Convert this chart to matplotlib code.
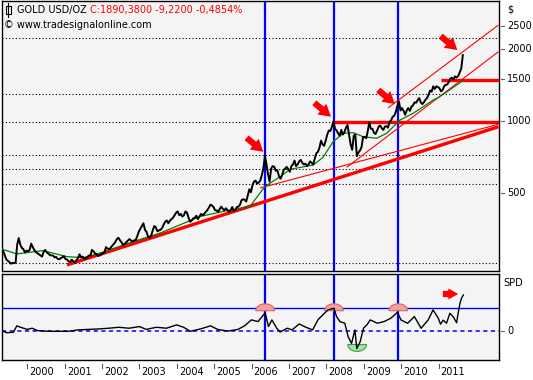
import numpy as np
import matplotlib
matplotlib.use("Agg")
import matplotlib.pyplot as plt
from matplotlib.transforms import blended_transform_factory as btf
from matplotlib.patches import Polygon, Rectangle
from matplotlib.lines import Line2D

plt.rcParams['font.family'] = ['DejaVu Sans']
plt.rcParams['lines.scale_dashes'] = False

# ---------------- data (semi-monthly gold closes, USD/oz) ----------------
gold_1999 = [287, 276, 265, 261, 258, 254, 256, 255, 257, 305, 325, 305, 296, 292, 283, 288]  # from May
gold_2000 = [286, 290, 308, 298, 290, 284, 281, 278, 275, 272, 285, 290, 283, 280, 276, 275, 275, 270, 271, 266, 265, 268, 270, 273]
gold_2001 = [266, 264, 260, 258, 264, 260, 257, 262, 268, 278, 270, 272, 266, 268, 270, 275, 274, 290, 286, 280, 278, 274, 275, 278]
gold_2002 = [281, 283, 298, 294, 292, 296, 302, 307, 313, 322, 326, 318, 312, 304, 308, 312, 317, 322, 318, 314, 318, 318, 330, 345]
gold_2003 = [355, 365, 375, 352, 345, 330, 326, 333, 350, 365, 360, 347, 350, 352, 358, 370, 380, 385, 375, 384, 390, 395, 405, 415]
gold_2004 = [420, 405, 410, 400, 405, 420, 415, 395, 380, 385, 393, 395, 403, 390, 400, 410, 405, 410, 418, 425, 435, 448, 445, 438]
gold_2005 = [425, 424, 418, 430, 440, 430, 425, 433, 425, 418, 425, 438, 423, 425, 438, 440, 448, 468, 472, 470, 462, 490, 520, 505]
gold_2006 = [540, 560, 565, 548, 555, 565, 595, 635, 715, 660, 600, 560, 635, 650, 645, 620, 625, 590, 575, 595, 625, 635, 645, 630]
gold_2007 = [615, 650, 660, 685, 650, 660, 680, 690, 670, 660, 665, 650, 660, 680, 670, 660, 700, 735, 745, 775, 830, 800, 790, 830]
gold_2008 = [880, 915, 910, 950, 1000, 930, 915, 890, 870, 920, 880, 900, 940, 965, 880, 800, 760, 870, 880, 715, 740, 755, 780, 860]
gold_2009 = [860, 850, 910, 990, 930, 930, 895, 885, 915, 950, 960, 935, 920, 950, 955, 940, 995, 1010, 1045, 1055, 1095, 1160, 1210, 1110]
gold_2010 = [1135, 1105, 1065, 1110, 1135, 1105, 1150, 1165, 1200, 1195, 1225, 1250, 1200, 1180, 1200, 1230, 1250, 1290, 1345, 1330, 1400, 1365, 1400, 1390]
gold_2011 = [1375, 1335, 1350, 1400, 1420, 1425, 1460, 1510, 1520, 1495, 1540, 1525, 1545, 1600, 1660, 1890]
gold_years = [1999, 2000, 2001, 2002, 2003, 2004, 2005, 2006, 2007, 2008, 2009, 2010, 2011]
gold_start_half_month = [8, 0, 0, 0, 0, 0, 0, 0, 0, 0, 0, 0, 0]

# green moving average
ma_dates = [1999.33, 1999.72, 2000.42, 2001.05, 2001.49, 2001.94, 2002.83, 2003.55, 2004.08, 2004.62,
            2005.3, 2005.95, 2006.35, 2006.76, 2007.03, 2007.65, 2007.9, 2008.18, 2008.45, 2008.72,
            2008.98, 2009.34, 2009.61, 2009.97, 2010.32, 2010.86, 2011.03, 2011.64]
ma_values = [292, 279, 288, 272, 269, 281, 314, 341, 369, 400,
             422, 440, 533, 587, 630, 657, 705, 822, 891, 896,
             862, 849, 891, 1013, 1080, 1228, 1267, 1474]

# SPD oscillator (1 = upper threshold)
spd_dates = [1999.35, 1999.45, 1999.63, 1999.72, 1999.82, 2000.0, 2000.13, 2000.27, 2000.45, 2000.63,
             2000.91, 2001.09, 2001.36, 2001.63, 2001.9, 2002.18, 2002.45, 2002.72, 2003.0, 2003.18,
             2003.45, 2003.72, 2003.99, 2004.18, 2004.36, 2004.63, 2004.9, 2005.09, 2005.36, 2005.63,
             2005.81, 2005.99, 2006.17, 2006.36, 2006.45, 2006.54, 2006.67, 2006.76, 2006.95, 2007.08,
             2007.27, 2007.45, 2007.63, 2007.77, 2007.9, 2008.04, 2008.2, 2008.27, 2008.36, 2008.49,
             2008.58, 2008.67, 2008.76, 2008.81, 2008.9, 2008.99, 2009.08, 2009.17, 2009.36, 2009.54,
             2009.72, 2009.9, 2009.99, 2010.17, 2010.35, 2010.53, 2010.72, 2010.85, 2010.99, 2011.05,
             2011.12, 2011.21, 2011.30, 2011.39, 2011.48, 2011.52, 2011.57, 2011.61, 2011.66]
spd_values = [0.01, -0.06, -0.04, 0.23, 0.17, 0.08, 0.13, 0.03, 0.01, 0.0,
              0.0, 0.0, 0.06, 0.08, 0.10, 0.13, 0.17, 0.13, 0.20, 0.08,
              0.17, 0.13, 0.27, 0.17, 0.0, 0.10, 0.23, 0.08, 0.01, 0.08,
              0.23, 0.48, 0.41, 0.78, 0.20, 0.48, 0.13, -0.03, 0.13, 0.06,
              0.31, 0.17, 0.06, 0.48, 0.69, 0.90, 0.97, 0.62, 0.41, 0.34,
              -0.23, -0.51, 0.06, -0.72, -0.44, 0.13, 0.27, 0.48, 0.34, 0.41,
              0.55, 0.80, 0.48, 0.34, 0.62, 0.13, 0.48, 0.90, 0.55, 0.30,
              0.47, 0.34, 0.76, 0.61, 0.36, 0.76, 1.18, 1.39, 1.53]
spd_upper = 1.0

# trendlines (date, price) endpoints
support_thick = ([2001.06, 2012.6], [251, 949])
support_thin = ([2006.22, 2012.6], [526, 972])
channel_low = ([2008.54, 2012.6], [642, 1954])
channel_high = ([2009.645, 2012.6], [1137, 2526])
level_1000 = ([2008.2, 2012.6], [995, 995])
level_1500 = ([2011.05, 2012.6], [1484, 1484])
grid_levels = [2225, 1300, 990, 723, 630, 545, 255]

peak_dates = [2006.36, 2008.2, 2009.92]
arrow_dates = [2006.31, 2008.12, 2009.83, 2011.5]
arrow_prices = [746, 1045, 1181, 1985]
spd_arrow = (2011.52, 1.57)
spd_dome_base = 0.866
spd_trough = (2008.82, -0.555)

year_ticks = list(range(2000, 2012))
year_labels = [str(y) for y in year_ticks]
price_ticks = [500, 1000, 1500, 2000, 2500]

# ---------------- figure ----------------
W, H = 533, 380
fig = plt.figure(figsize=(W / 100, H / 100), dpi=100, facecolor='white')


def px_axes(x0, y0, x1, y1):
    return fig.add_axes([x0 / W, 1 - y1 / H, (x1 - x0) / W, (y1 - y0) / H])


BG = '#F4F4F4'
ax = px_axes(1.5, 0.5, 498.5, 270.5)
ax2 = px_axes(1.5, 274, 498.5, 359.5)
for a in (ax, ax2):
    a.set_facecolor(BG)
    a.set_xticks([])
    a.set_yticks([])
    for s in a.spines.values():
        s.set_linewidth(1.0)
        s.set_color('black')
    a.set_xlim(1999.31, 2012.6)

ax.set_yscale('log')
ax.set_ylim(237.9, 3197)
ax.minorticks_off()
ax.set_yticks([])
ax2.set_ylim(-1.185, 2.41)

# price series
dates, prices = [], []
for yr, st, arr in zip(gold_years, gold_start_half_month,
                       [gold_1999, gold_2000, gold_2001, gold_2002, gold_2003, gold_2004, gold_2005,
                        gold_2006, gold_2007, gold_2008, gold_2009, gold_2010, gold_2011]):
    for i, v in enumerate(arr):
        dates.append(yr + (st + i) / 24 + 1 / 48)
        prices.append(v)

# dotted grid
for g in grid_levels:
    ax.axhline(g, color='black', lw=0.8, linestyle=(0, (0.8, 1.6)), zorder=1)

# verticals
for d in peak_dates:
    ax.axvline(d, color='#0000FF', lw=1.6, zorder=2)
    ax2.axvline(d, color='#0000FF', lw=1.6, zorder=2)

# trend lines
for (xs, ys), lw in [(support_thick, 2.4), (support_thin, 0.8), (channel_low, 0.8),
                     (channel_high, 0.8), (level_1000, 2.4), (level_1500, 2.4)]:
    ax.plot(xs, ys, color='#FF0000', lw=lw, zorder=3, solid_capstyle='butt')

ax.plot(ma_dates, ma_values, color='#008000', lw=0.9, zorder=4)
ax.plot(dates, prices, color='black', lw=1.4, zorder=5)

for d, p in zip(arrow_dates, arrow_prices):
    ax.annotate('', xy=(d, p), xytext=(-12, 10), textcoords='offset points',
                arrowprops=dict(arrowstyle='simple,head_length=0.85,head_width=1.0,tail_width=0.45',
                                color='#FF0000', lw=0, shrinkA=0, shrinkB=0), zorder=6)

# lower panel
ax2.axhline(spd_upper, color='#0000FF', lw=1.0, zorder=2)
ax2.axhline(0, color='#0000FF', lw=1.1, linestyle=(0, (3, 2.5)), zorder=2)

t = np.linspace(0, np.pi, 40)
for d in peak_dates:
    pts = np.column_stack([d + 0.25 * np.cos(t), spd_dome_base + 0.29 * np.sin(t)])
    ax2.add_patch(Polygon(pts, closed=True, facecolor='#F2A0A0', edgecolor='#E06060', lw=0.8, zorder=3))
td, tl = spd_trough
pts = np.column_stack([td + 0.25 * np.cos(t), tl - 0.29 * np.sin(t)])
ax2.add_patch(Polygon(pts, closed=True, facecolor='#A8DCA8', edgecolor='#40A040', lw=0.8, zorder=3))

ax2.plot(spd_dates, spd_values, color='black', lw=1.0, zorder=4)
ax2.annotate('', xy=spd_arrow, xytext=(-11, 0), textcoords='offset points',
             arrowprops=dict(arrowstyle='simple,head_length=0.7,head_width=0.8,tail_width=0.45',
                             color='#FF0000', lw=0, shrinkA=0, shrinkB=0), zorder=6)

# ---------------- axis texts ----------------
FS = 7.0
trm = btf(ax.transAxes, ax.transData)
for v in price_ticks:
    ax.plot([1.006, 1.012], [v, v], transform=trm, color='#666666', lw=0.8, clip_on=False)
    ax.text(1.0175, v, str(v), transform=trm, ha='left', va='center', fontsize=FS)
ax.text(1.0175, 0.968, '$', transform=ax.transAxes, ha='left', va='center', fontsize=FS)

tr2 = btf(ax2.transAxes, ax2.transData)
ax2.plot([1.006, 1.012], [0, 0], transform=tr2, color='#666666', lw=0.8, clip_on=False)
ax2.text(1.0175, 0, '0', transform=tr2, ha='left', va='center', fontsize=FS)
ax2.text(1.009, 0.895, 'SPD', transform=ax2.transAxes, ha='left', va='center', fontsize=FS)

trx = btf(ax2.transData, ax2.transAxes)
for yr, lab in zip(year_ticks, year_labels):
    ax2.plot([yr, yr], [-0.053, -0.098], transform=trx, color='#555555', lw=0.8, clip_on=False)
    ax2.text(yr + 0.055, -0.152, lab, transform=trx, ha='left', va='center', fontsize=FS)

# title
fig.text(17 / W, 1 - 10 / H, 'GOLD USD/OZ', ha='left', va='center', fontsize=FS, color='black')
fig.text(90 / W, 1 - 10 / H, 'C:1890,3800 -9,2200 -0,4854%', ha='left', va='center', fontsize=FS, color='#FF0000')
fig.text(4 / W, 1 - 25 / H, '\u00a9 www.tradesignalonline.com', ha='left', va='center', fontsize=FS, color='black')
fig.add_artist(Line2D([8 / W, 8 / W], [1 - 3 / H, 1 - 17 / H], transform=fig.transFigure, color='black', lw=0.8))
fig.add_artist(Rectangle((6 / W, 1 - 14 / H), 4.5 / W, 7.5 / H, transform=fig.transFigure,
                         facecolor=BG, edgecolor='black', lw=0.8))

fig.savefig('out.png', dpi=100, facecolor='white')
